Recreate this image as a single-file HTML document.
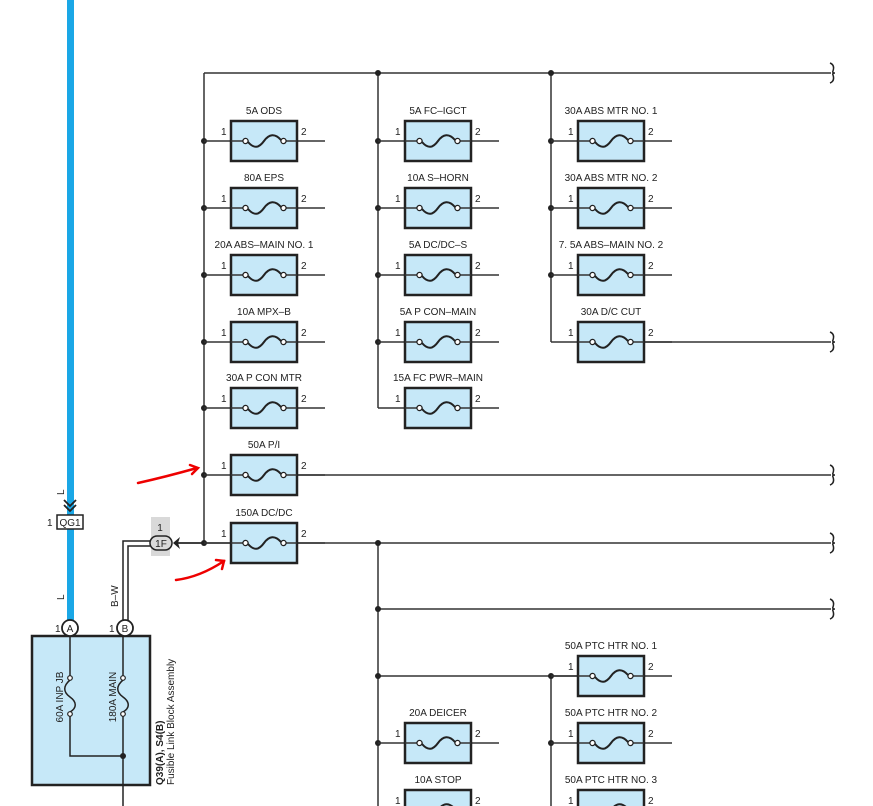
<!DOCTYPE html>
<html><head><meta charset="utf-8"><style>
html,body{margin:0;padding:0;background:#fff;}
svg{display:block;font-family:"Liberation Sans",sans-serif;}
</style></head><body>
<svg width="873" height="806" viewBox="0 0 873 806" xmlns="http://www.w3.org/2000/svg">
<defs>
<g id="fz">
<line x1="-27" y1="0" x2="94" y2="0" stroke="#333" stroke-width="1.5"/>
<rect x="0" y="-20" width="66" height="40" fill="#c6e8f8" stroke="#222" stroke-width="2.5"/>
<line x1="0" y1="0" x2="14" y2="0" stroke="#333" stroke-width="1.5"/>
<line x1="53" y1="0" x2="66" y2="0" stroke="#333" stroke-width="1.5"/>
<path d="M17,1 C23,8 28,7 33,0 C38,-7 44,-8 50,-1" fill="none" stroke="#222" stroke-width="2"/>
<circle cx="14.5" cy="0" r="2.6" fill="#fff" stroke="#222" stroke-width="1.3"/>
<circle cx="52.5" cy="0" r="2.6" fill="#fff" stroke="#222" stroke-width="1.3"/>
<text x="-10" y="-6" font-size="10" fill="#222">1</text>
<text x="70" y="-6" font-size="10" fill="#222">2</text>
</g>
<path id="brk" d="M830,-10 Q835,-8 833,-2 Q832,0 835,0 Q832,0 833,2 Q835,8 830,10" fill="none" stroke="#222" stroke-width="1.5"/>
</defs>
<g stroke="#333" stroke-width="1.5" fill="none">
<line x1="204" y1="73" x2="831" y2="73"/>
<line x1="204" y1="73" x2="204" y2="543"/>
<line x1="378" y1="73" x2="378" y2="408"/>
<line x1="551" y1="73" x2="551" y2="342"/>
<line x1="645" y1="342" x2="831" y2="342"/>
<line x1="297" y1="475" x2="831" y2="475"/>
<line x1="178" y1="543" x2="831" y2="543"/>
<line x1="378" y1="543" x2="378" y2="806"/>
<line x1="378" y1="609" x2="831" y2="609"/>
<line x1="378" y1="676" x2="578" y2="676"/>
<line x1="551" y1="676" x2="551" y2="806"/>
</g>
<use href="#brk" transform="translate(0,73)"/>
<use href="#brk" transform="translate(0,342)"/>
<use href="#brk" transform="translate(0,475)"/>
<use href="#brk" transform="translate(0,543)"/>
<use href="#brk" transform="translate(0,609)"/>
<g fill="#222">
<circle cx="378" cy="73" r="3"/><circle cx="551" cy="73" r="3"/>
<circle cx="204" cy="141" r="3"/><circle cx="204" cy="208" r="3"/><circle cx="204" cy="275" r="3"/><circle cx="204" cy="342" r="3"/><circle cx="204" cy="408" r="3"/><circle cx="204" cy="475" r="3"/><circle cx="204" cy="543" r="3"/>
<circle cx="378" cy="141" r="3"/><circle cx="378" cy="208" r="3"/><circle cx="378" cy="275" r="3"/><circle cx="378" cy="342" r="3"/>
<circle cx="551" cy="141" r="3"/><circle cx="551" cy="208" r="3"/><circle cx="551" cy="275" r="3"/>
<circle cx="378" cy="543" r="3"/><circle cx="378" cy="609" r="3"/><circle cx="378" cy="676" r="3"/><circle cx="378" cy="743" r="3"/>
<circle cx="551" cy="676" r="3"/><circle cx="551" cy="743" r="3"/>
</g>
<use href="#fz" x="231" y="141"/><use href="#fz" x="231" y="208"/><use href="#fz" x="231" y="275"/><use href="#fz" x="231" y="342"/><use href="#fz" x="231" y="408"/><use href="#fz" x="231" y="475"/><use href="#fz" x="231" y="543"/>
<use href="#fz" x="405" y="141"/><use href="#fz" x="405" y="208"/><use href="#fz" x="405" y="275"/><use href="#fz" x="405" y="342"/><use href="#fz" x="405" y="408"/>
<use href="#fz" x="578" y="141"/><use href="#fz" x="578" y="208"/><use href="#fz" x="578" y="275"/><use href="#fz" x="578" y="342"/>
<use href="#fz" x="578" y="676"/><use href="#fz" x="578" y="743"/><use href="#fz" x="578" y="810"/>
<use href="#fz" x="405" y="743"/><use href="#fz" x="405" y="810"/>
<g font-size="10" fill="#222" text-anchor="middle">
<text x="264" y="114">5A ODS</text><text x="264" y="181">80A EPS</text><text x="264" y="248">20A ABS–MAIN NO. 1</text><text x="264" y="315">10A MPX–B</text><text x="264" y="381">30A P CON MTR</text><text x="264" y="448">50A P/I</text><text x="264" y="516">150A DC/DC</text>
<text x="438" y="114">5A FC–IGCT</text><text x="438" y="181">10A S–HORN</text><text x="438" y="248">5A DC/DC–S</text><text x="438" y="315">5A P CON–MAIN</text><text x="438" y="381">15A FC PWR–MAIN</text>
<text x="611" y="114">30A ABS MTR NO. 1</text><text x="611" y="181">30A ABS MTR NO. 2</text><text x="611" y="248">7. 5A ABS–MAIN NO. 2</text><text x="611" y="315">30A D/C CUT</text>
<text x="611" y="649">50A PTC HTR NO. 1</text><text x="611" y="716">50A PTC HTR NO. 2</text><text x="611" y="783">50A PTC HTR NO. 3</text>
<text x="438" y="716">20A DEICER</text><text x="438" y="783">10A STOP</text>
</g>
<!-- left block -->
<rect x="67" y="0" width="7" height="620" fill="#1aa7e6"/>
<path d="M64,500 L70,506 L76,500 M64,505 L70,511 L76,505" fill="none" stroke="#222" stroke-width="1.8"/>
<rect x="57" y="515" width="26" height="14" fill="#fff" stroke="#222" stroke-width="1.5"/>
<text x="70" y="526" font-size="10" text-anchor="middle" fill="#222">QG1</text>
<text x="47" y="526" font-size="10" fill="#222">1</text>
<text x="0" y="0" font-size="10" fill="#222" transform="translate(64,495) rotate(-90)">L</text>
<text x="0" y="0" font-size="10" fill="#222" transform="translate(64,600) rotate(-90)">L</text>
<rect x="32" y="636" width="118" height="149" fill="#c6e8f8" stroke="#222" stroke-width="2.5"/>
<g stroke="#222" stroke-width="1.5" fill="none">
<path d="M70,636 V677 M70,715 V756 H123"/>
<path d="M123,636 V677 M123,715 V806"/>
<path d="M70,680 C63,686 63,692 70,697 C77,702 77,708 70,712"/>
<path d="M123,680 C116,686 116,692 123,697 C130,702 130,708 123,712"/>
<path d="M123,620 V541 H160 M128,620 V546 H160" stroke-width="1.5"/>
<line x1="178" y1="543" x2="204" y2="543"/>
</g>
<circle cx="70" cy="678" r="2.3" fill="#fff" stroke="#222" stroke-width="1.2"/><circle cx="70" cy="714" r="2.3" fill="#fff" stroke="#222" stroke-width="1.2"/>
<circle cx="123" cy="678" r="2.3" fill="#fff" stroke="#222" stroke-width="1.2"/><circle cx="123" cy="714" r="2.3" fill="#fff" stroke="#222" stroke-width="1.2"/>
<circle cx="123" cy="756" r="3" fill="#222"/>
<circle cx="70" cy="628" r="8" fill="#fff" stroke="#222" stroke-width="1.8"/><text x="70" y="632" font-size="10" text-anchor="middle" fill="#222">A</text>
<circle cx="125" cy="628" r="8" fill="#fff" stroke="#222" stroke-width="1.8"/><text x="125" y="632" font-size="10" text-anchor="middle" fill="#222">B</text>
<text x="55" y="632" font-size="10" fill="#222">1</text><text x="109" y="632" font-size="10" fill="#222">1</text>
<text font-size="10" fill="#222" transform="translate(118,607) rotate(-90)">B–W</text>
<text font-size="10" fill="#222" text-anchor="middle" transform="translate(63,697) rotate(-90)">60A INP JB</text>
<text font-size="10" fill="#222" text-anchor="middle" transform="translate(116,697) rotate(-90)">180A MAIN</text>
<text font-size="10" fill="#222" font-weight="bold" transform="translate(163,785) rotate(-90)">Q39(A), S4(B)</text>
<text font-size="10" fill="#222" transform="translate(174,785) rotate(-90)">Fusible Link Block Assembly</text>
<rect x="151" y="517" width="19" height="39" fill="#d9d9d9"/>
<text x="160" y="531" font-size="10" text-anchor="middle" fill="#222">1</text>
<rect x="150" y="536" width="22" height="14" rx="7" fill="#d9d9d9" stroke="#222" stroke-width="1.5"/>
<text x="161" y="547" font-size="10" text-anchor="middle" fill="#222">1F</text>
<path d="M173,543 L180,537 L178,543 L180,549 Z" fill="#222"/>
<g stroke="#e00" stroke-width="2.5" fill="none" stroke-linecap="round">
<path d="M138,483 Q165,477 197,468"/><path d="M190,465 L198,468 L192,474"/>
<path d="M176,580 Q200,577 224,561"/><path d="M216,560 L224,561 L222,569"/>
</g>
</svg>
</body></html>
